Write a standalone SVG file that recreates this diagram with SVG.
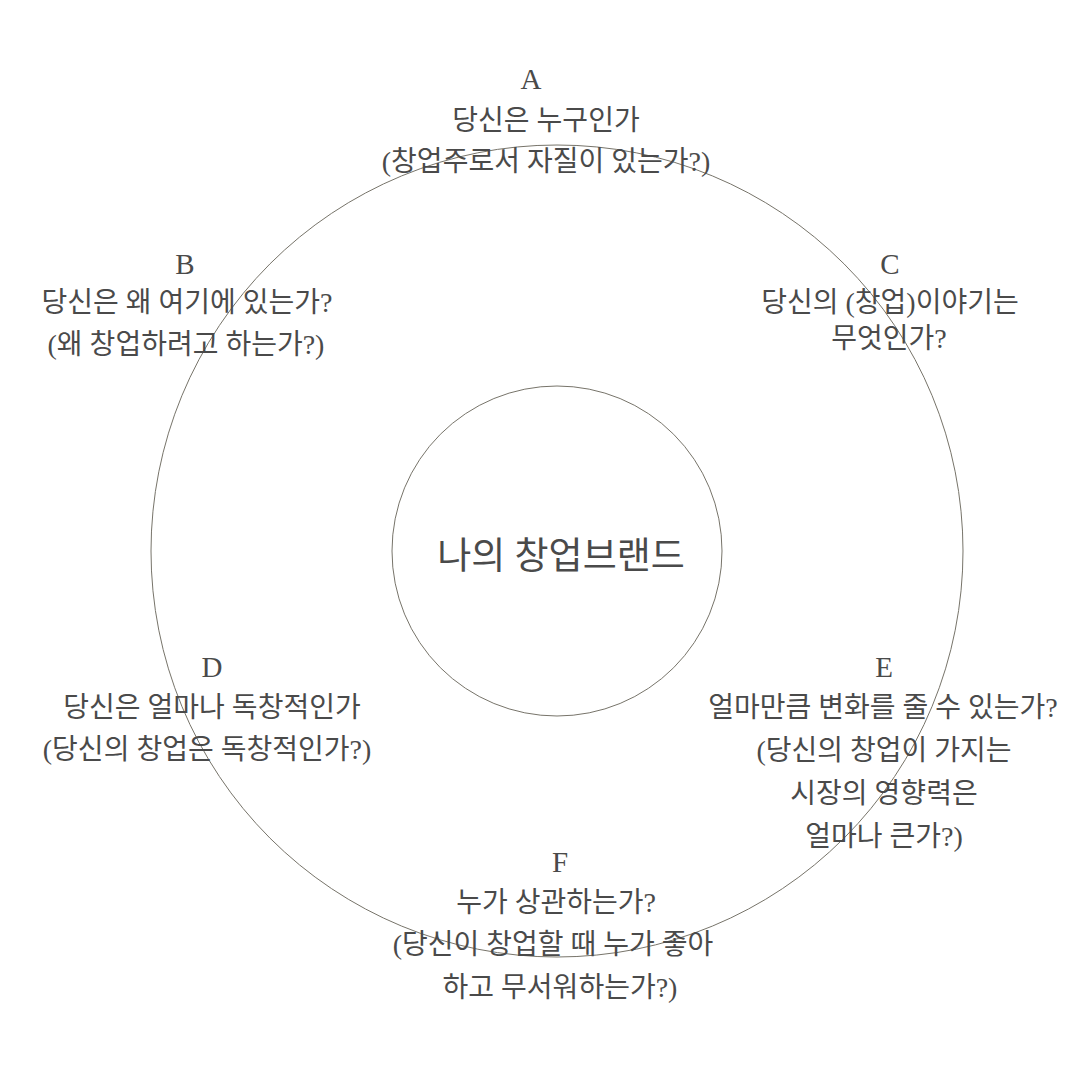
<svg xmlns="http://www.w3.org/2000/svg" width="1070" height="1090" viewBox="0 0 1070 1090">
<style>
.t{font-family:"Liberation Serif","Noto Sans CJK KR",serif;font-size:28px;fill:#4a4a4a;text-anchor:middle}
.l{font-family:"Liberation Serif","Noto Sans CJK KR",serif;font-size:29px;fill:#4a4a4a;text-anchor:middle}
.c{font-family:"Liberation Serif","Noto Sans CJK KR",serif;font-size:37px;fill:#4a4a4a;text-anchor:middle}
.ring{fill:none;stroke:#77746a;stroke-width:1}
</style>
<rect width="1070" height="1090" fill="#ffffff"/>
<g id="connectors">
<circle id="outer-ring" class="ring" cx="557" cy="551" r="406"/>
</g>
<g id="center">
<circle class="ring" cx="557" cy="551" r="165"/>
<text class="c" x="561" y="569">나의 창업브랜드</text>
</g>
<g id="node-a">
<text class="l" x="531" y="89">A</text>
<text class="t" x="546" y="130">당신은 누구인가</text>
<text class="t" x="546" y="171">(창업주로서 자질이 있는가?)</text>
</g>
<g id="node-b">
<text class="l" x="185" y="274">B</text>
<text class="t" x="187" y="312">당신은 왜 여기에 있는가?</text>
<text class="t" x="186" y="354">(왜 창업하려고 하는가?)</text>
</g>
<g id="node-c">
<text class="l" x="890" y="274">C</text>
<text class="t" x="890" y="312">당신의 (창업)이야기는</text>
<text class="t" x="889" y="348">무엇인가?</text>
</g>
<g id="node-d">
<text class="l" x="212" y="677">D</text>
<text class="t" x="212" y="717">당신은 얼마나 독창적인가</text>
<text class="t" x="207" y="759">(당신의 창업은 독창적인가?)</text>
</g>
<g id="node-e">
<text class="l" x="884" y="677">E</text>
<text class="t" x="883" y="717">얼마만큼 변화를 줄 수 있는가?</text>
<text class="t" x="884" y="760">(당신의 창업이 가지는</text>
<text class="t" x="884" y="803">시장의 영향력은</text>
<text class="t" x="884" y="846">얼마나 큰가?)</text>
</g>
<g id="node-f">
<text class="l" x="560" y="872">F</text>
<text class="t" x="556" y="912">누가 상관하는가?</text>
<text class="t" x="553" y="954">(당신이 창업할 때 누가 좋아</text>
<text class="t" x="560" y="997">하고 무서워하는가?)</text>
</g>
</svg>
